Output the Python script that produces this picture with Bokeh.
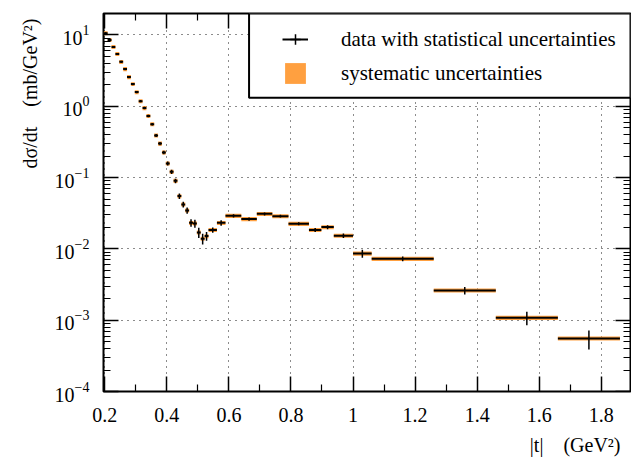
from bokeh.plotting import figure
from bokeh.models import (ColumnDataSource, Legend, LegendItem, LinearAxis, LogAxis,
                          FixedTicker, LogTicker, BoxAnnotation, Range1d, Title,
                          CustomJSTickFormatter)
from bokeh.embed import file_html
from bokeh.resources import INLINE

# ---------------- data ----------------
t_center = [0.203, 0.2155, 0.228, 0.2405, 0.253, 0.2655, 0.278, 0.2905, 0.303, 0.3155,
            0.328, 0.3405, 0.353, 0.3655, 0.378, 0.3905, 0.403, 0.4155, 0.428, 0.4405,
            0.453, 0.4655, 0.478, 0.4905, 0.503, 0.5155, 0.528,
            0.548, 0.575, 0.615, 0.665, 0.715, 0.766, 0.825, 0.878, 0.918, 0.969,
            1.03, 1.16, 1.36, 1.56, 1.76]
t_low = [0.1968, 0.2093, 0.2218, 0.2343, 0.2468, 0.2593, 0.2718, 0.2843, 0.2968, 0.3093,
         0.3218, 0.3343, 0.3468, 0.3593, 0.3718, 0.3843, 0.3968, 0.4093, 0.4218, 0.4343,
         0.4468, 0.4593, 0.4718, 0.4843, 0.4968, 0.5093, 0.5218,
         0.5343, 0.5615, 0.589, 0.640, 0.690, 0.740, 0.792, 0.858, 0.898, 0.938,
         1.0, 1.06, 1.26, 1.46, 1.66]
t_high = [0.2093, 0.2218, 0.2343, 0.2468, 0.2593, 0.2718, 0.2843, 0.2968, 0.3093, 0.3218,
          0.3343, 0.3468, 0.3593, 0.3718, 0.3843, 0.3968, 0.4093, 0.4218, 0.4343, 0.4468,
          0.4593, 0.4718, 0.4843, 0.4968, 0.5093, 0.5218, 0.5343,
          0.5615, 0.589, 0.640, 0.690, 0.740, 0.792, 0.858, 0.898, 0.938, 1.0,
          1.06, 1.26, 1.46, 1.66, 1.86]
dsigma_dt = [10.6, 8.5, 6.8, 5.4, 4.2, 3.33, 2.57, 2.05, 1.58, 1.18,
             0.944, 0.73, 0.56, 0.39, 0.30, 0.225, 0.158, 0.1205, 0.090, 0.055,
             0.042, 0.0346, 0.0232, 0.0227, 0.0170, 0.0139, 0.0151,
             0.0184, 0.0232, 0.0291, 0.0262, 0.031, 0.0288, 0.0225, 0.0184, 0.0202, 0.0153,
             0.0086, 0.00726, 0.00261, 0.00108, 0.000553]
stat_err = [0.35, 0.28, 0.22, 0.18, 0.14, 0.12, 0.09, 0.075, 0.06, 0.045,
            0.038, 0.03, 0.024, 0.018, 0.015, 0.012, 0.01, 0.0085, 0.0065, 0.005,
            0.0038, 0.0035, 0.0028, 0.0029, 0.0028, 0.0024, 0.0021,
            0.0016, 0.0021, 0.0015, 0.0013, 0.0015, 0.0012, 0.0011, 0.0012, 0.0013, 0.0011,
            0.0011, 0.00055, 0.00032, 0.00023, 0.000165]
syst_err = [0.7, 0.55, 0.44, 0.35, 0.27, 0.22, 0.17, 0.13, 0.10, 0.077,
            0.061, 0.047, 0.036, 0.025, 0.02, 0.015, 0.01, 0.008, 0.006, 0.0036,
            0.0027, 0.0023, 0.0015, 0.0015, 0.0011, 0.0009, 0.001,
            0.0012, 0.0015, 0.0019, 0.0017, 0.002, 0.0019, 0.0015, 0.0012, 0.0013, 0.001,
            0.00056, 0.00047, 0.00017, 0.00007, 0.000036]

x_ticks = [0.2, 0.4, 0.6, 0.8, 1.0, 1.2, 1.4, 1.6, 1.8]
x_tick_labels = ["0.2", "0.4", "0.6", "0.8", "1", "1.2", "1.4", "1.6", "1.8"]
x_minor_ticks = [0.3, 0.5, 0.7, 0.9, 1.1, 1.3, 1.5, 1.7, 1.9]
x_min, x_max = 0.196, 1.894
y_min, y_max = 1e-4, 20

legend_labels = ["data with statistical uncertainties", "systematic uncertainties"]
GAP = "\u00a0\u00a0\u00a0\u00a0"
x_title = "|t|" + GAP + "(GeV²)"
y_title = "dσ/dt" + GAP + "(mb/GeV²)"

SERIF = "Liberation Serif"
ORANGE = "#ffa040"

src = ColumnDataSource(dict(
    t=t_center, lo=t_low, hi=t_high, y=dsigma_dt,
    ylo=[v - e for v, e in zip(dsigma_dt, stat_err)],
    yhi=[v + e for v, e in zip(dsigma_dt, stat_err)],
    slo=[v - e for v, e in zip(dsigma_dt, syst_err)],
    shi=[v + e for v, e in zip(dsigma_dt, syst_err)],
))

p = figure(width=631, height=462, y_axis_type="log",
           x_range=Range1d(x_min, x_max), y_range=Range1d(y_min, y_max),
           output_backend="svg", toolbar_location=None,
           min_border_left=103, min_border_right=1, min_border_top=13,
           min_border_bottom=71)
p.outline_line_color = "black"
p.outline_line_width = 2
p.background_fill_color = "white"

xticker = FixedTicker(ticks=x_ticks, minor_ticks=x_minor_ticks)
yticker = LogTicker(desired_num_ticks=6, num_minor_ticks=10)

def style_axis(ax):
    ax.axis_line_color = None
    ax.major_tick_in = 15
    ax.major_tick_out = 0
    ax.minor_tick_in = 7
    ax.minor_tick_out = 0
    ax.major_tick_line_color = "black"
    ax.minor_tick_line_color = "black"
    ax.major_tick_line_width = 1.5
    ax.minor_tick_line_width = 1.2
    ax.major_label_text_font = SERIF
    ax.major_label_text_font_size = "20px"
    ax.major_label_text_color = "black"

xa = p.xaxis[0]
ya = p.yaxis[0]
style_axis(xa)
style_axis(ya)
xa.ticker = xticker
xa.major_label_overrides = dict(zip(x_ticks, x_tick_labels))
xa.major_label_standoff = 16
ya.ticker = yticker
ya.major_label_standoff = 14

blank = CustomJSTickFormatter(code="return ''")
top_ax = LinearAxis(ticker=xticker, formatter=blank, fixed_location=y_max)
right_ax = LogAxis(ticker=yticker, formatter=blank, fixed_location=x_max)
for ax in (top_ax, right_ax):
    style_axis(ax)
    ax.major_label_text_font_size = "0px"
    ax.major_label_standoff = 0
p.add_layout(top_ax, "above")
p.add_layout(right_ax, "right")

# axis titles, aligned to the ends of the axes
p.add_layout(Title(text=x_title, align="right", standoff=14, offset=10,
                   text_font=SERIF, text_font_size="20px",
                   text_font_style="normal", text_color="black"), "below")
p.add_layout(Title(text=y_title, align="right", standoff=22, offset=5,
                   text_font=SERIF, text_font_size="20px",
                   text_font_style="normal", text_color="black"), "left")

p.xgrid.ticker = xticker
for g in (p.xgrid, p.ygrid):
    g.grid_line_color = "black"
    g.grid_line_dash = "1 5"
    g.grid_line_width = 1
    g.grid_line_alpha = 0.9
p.ygrid.minor_grid_line_color = None

# systematic boxes
syst_r = p.quad(left="lo", right="hi", bottom="slo", top="shi", source=src,
                fill_color=ORANGE, line_color=None)
# bin widths (horizontal bars)
h_r = p.segment(x0="lo", x1="hi", y0="y", y1="y", source=src,
                line_color="black", line_width=2)
# statistical error bars
v_r = p.segment(x0="t", x1="t", y0="ylo", y1="yhi", source=src,
                line_color="black", line_width=1.5)
# zero-size markers: only used to draw the cross in the legend
cross_r = p.scatter(x="t", y="y", source=src, marker="cross", size=0,
                    line_color="black", line_width=1.5)

# legend box
box = BoxAnnotation(left=0.665, bottom=1.316, fill_color="white", fill_alpha=1.0,
                    line_color="black", line_width=2, line_alpha=1.0)
p.add_layout(box)

legend = Legend(items=[LegendItem(label=legend_labels[0], renderers=[h_r, cross_r]),
                       LegendItem(label=legend_labels[1], renderers=[syst_r])],
                location=(179, 305), padding=0, spacing=8,
                glyph_width=26, glyph_height=26, label_standoff=33,
                label_text_font=SERIF, label_text_font_size="21px",
                label_text_color="black",
                border_line_color=None, background_fill_alpha=0)
p.add_layout(legend)

open("out.html", "w").write(file_html(p, INLINE))
